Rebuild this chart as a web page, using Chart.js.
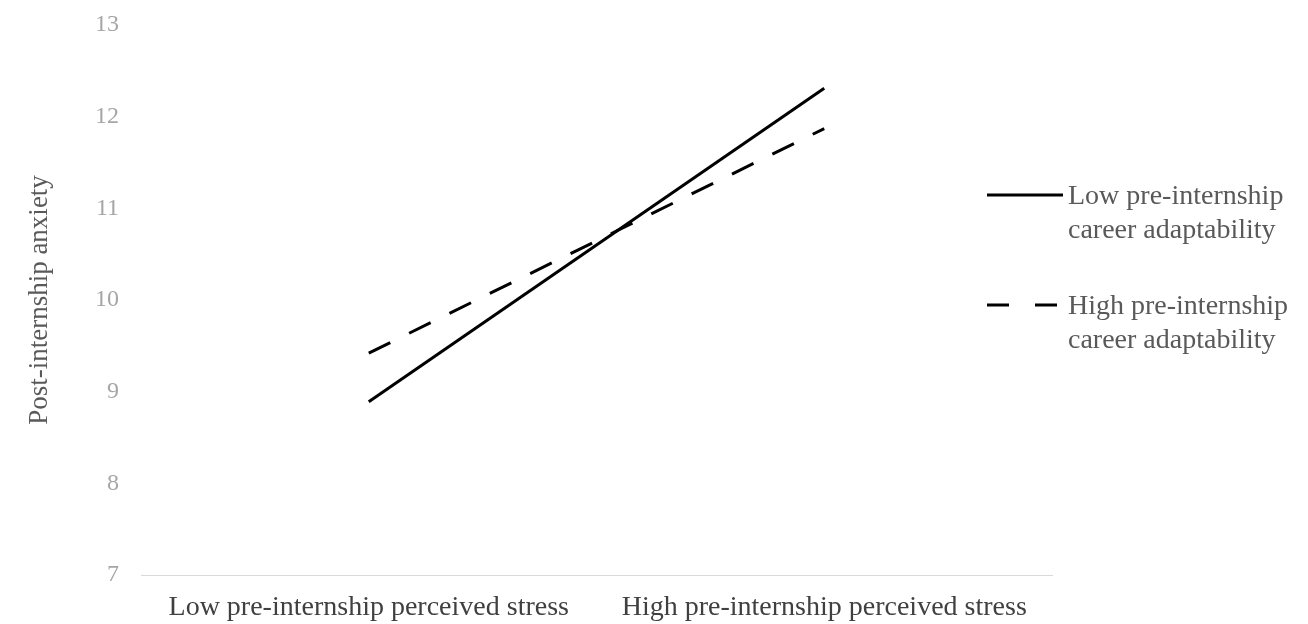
<!DOCTYPE html>
<html>
<head>
<meta charset="utf-8">
<script src="https://cdn.jsdelivr.net/npm/chart.js@4.4.1/dist/chart.umd.min.js"></script>
<style>
  html, body { margin: 0; padding: 0; background: #ffffff; }
  #wrap { width: 1308px; height: 624px; position: relative; }
</style>
</head>
<body>
<div id="wrap"><canvas id="c"></canvas></div>
<script>
const categories = ['Low pre-internship perceived stress', 'High pre-internship perceived stress'];
const lowAdaptability = [8.89, 12.31];
const highAdaptability = [9.42, 11.87];
const seriesNames = ['Low pre-internship career adaptability', 'High pre-internship career adaptability'];
const legendLines = [
  ['Low pre-internship', 'career adaptability'],
  ['High pre-internship', 'career adaptability']
];
const yTicks = [7, 8, 9, 10, 11, 12, 13];
const yTitle = 'Post-internship anxiety';

const FONT = "'Liberation Serif', 'Times New Roman', serif";

const sideLegend = {
  id: 'sideLegend',
  afterDraw(chart) {
    const ctx = chart.ctx;
    const rows = [195, 305];
    const samples = [
      { x0: 987, x1: 1063, dash: [] },
      { x0: 987, x1: 1057, dash: [22, 26] }
    ];
    const tx = 1068;
    ctx.save();
    chart.data.datasets.forEach((ds, i) => {
      const y = rows[i];
      ctx.beginPath();
      ctx.strokeStyle = ds.borderColor;
      ctx.lineWidth = ds.borderWidth;
      ctx.lineCap = 'butt';
      ctx.setLineDash(samples[i].dash);
      ctx.moveTo(samples[i].x0, y);
      ctx.lineTo(samples[i].x1, y);
      ctx.stroke();
      ctx.setLineDash([]);
      ctx.fillStyle = '#595959';
      ctx.font = "28px " + FONT;
      ctx.textAlign = 'left';
      ctx.textBaseline = 'middle';
      legendLines[i].forEach((t, j) => {
        ctx.fillText(t, tx, y + 2 + j * 34);
      });
    });
    ctx.restore();
  }
};

new Chart(document.getElementById('c'), {
  type: 'line',
  data: {
    labels: categories,
    datasets: [
      {
        label: seriesNames[0],
        data: lowAdaptability,
        borderColor: '#000000',
        borderWidth: 3,
        pointRadius: 0,
        tension: 0,
        fill: false
      },
      {
        label: seriesNames[1],
        data: highAdaptability,
        borderColor: '#000000',
        borderWidth: 3,
        borderDash: [24, 21],
        pointRadius: 0,
        tension: 0,
        fill: false
      }
    ]
  },
  options: {
    responsive: true,
    maintainAspectRatio: false,
    animation: false,
    layout: { padding: { left: 0, right: 256, top: 25, bottom: 0 } },
    plugins: {
      legend: { display: false },
      tooltip: { enabled: false }
    },
    scales: {
      x: {
        offset: true,
        grid: { display: false, drawTicks: false },
        border: { display: true, color: '#d9d9d9', width: 1 },
        ticks: {
          padding: 16,
          color: '#404040',
          font: { family: FONT, size: 28 },
          maxRotation: 0,
          autoSkip: false
        },
        afterFit(scale) { scale.height = 49; scale.paddingLeft = 0; scale.paddingRight = 0; }
      },
      y: {
        min: 7,
        max: 13,
        afterBuildTicks(scale) { scale.ticks = yTicks.map(v => ({ value: v })); },
        grid: { display: false, drawTicks: false },
        border: { display: false },
        ticks: {
          padding: 22,
          color: '#a6a6a6',
          font: { family: FONT, size: 24 }
        },
        title: {
          display: true,
          text: yTitle,
          color: '#595959',
          font: { family: FONT, size: 27 },
          padding: { top: 24, bottom: 0 }
        },
        afterFit(scale) { scale.width = 141; scale.paddingTop = 0; scale.paddingBottom = 0; }
      }
    }
  },
  plugins: [sideLegend]
});
</script>
</body>
</html>
